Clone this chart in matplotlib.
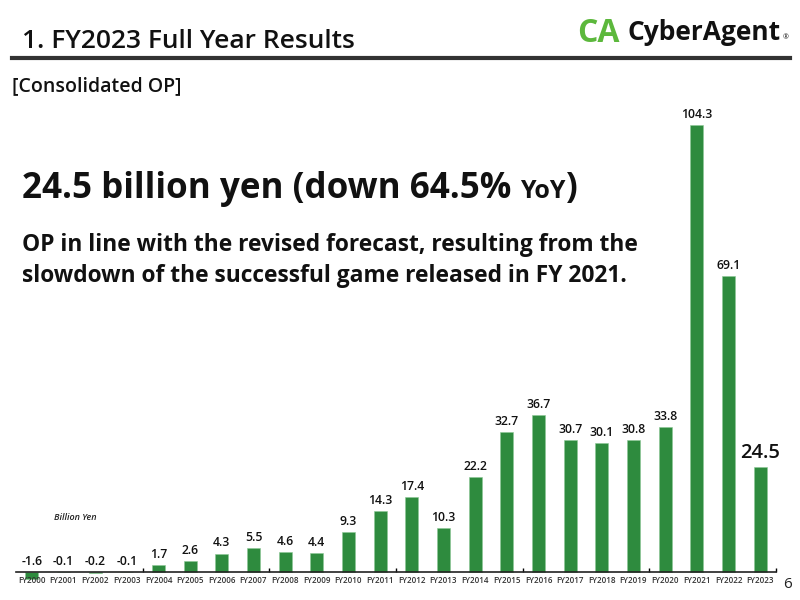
import numpy as np
import matplotlib.pyplot as plt

plt.rcParams['font.family'] = ['Open Sans', 'DejaVu Sans']

years = ['FY%d' % y for y in range(2000, 2024)]
op = [-1.6, -0.1, -0.2, -0.1, 1.7, 2.6, 4.3, 5.5, 4.6, 4.4, 9.3, 14.3,
      17.4, 10.3, 22.2, 32.7, 36.7, 30.7, 30.1, 30.8, 33.8, 104.3, 69.1, 24.5]

green = '#2e8b3e'

fig = plt.figure(figsize=(8, 6), dpi=100)
ax = fig.add_axes([0.02, 0.0252, 0.95, 0.8073])

x = np.arange(len(years))
ax.bar(x, op, width=0.42, color=green, edgecolor='#8cc996', linewidth=0.4)
ax.set_xlim(-0.5, len(years) - 0.5)
ax.set_ylim(-3, 110)

for s in ['top', 'right', 'left']:
    ax.spines[s].set_visible(False)
ax.spines['bottom'].set_position(('data', 0))
ax.spines['bottom'].set_linewidth(1.2)
ax.spines['bottom'].set_color('#222222')
ax.set_yticks([])
ax.set_xticks(x)
ax.set_xticklabels(years, fontsize=5.8, fontweight='semibold', color='#333333')
ax.tick_params(axis='x', which='major', length=0, pad=3)
ax.set_xticks(np.arange(3.5, len(years), 4), minor=True)
ax.tick_params(axis='x', which='minor', length=3, direction='in', width=1)

for i, v in enumerate(op):
    if i == len(op) - 1:
        ax.annotate('%.1f' % v, (i, v), xytext=(0, 3), textcoords='offset points',
                    ha='center', va='bottom', fontsize=14.5, fontweight='semibold', color='#111111')
    else:
        ax.annotate('%.1f' % v, (i, max(v, 0)), xytext=(0, 3), textcoords='offset points',
                    ha='center', va='bottom', fontsize=8.8, fontweight='semibold', color='#111111')

ax.text(0.7, 12.8, 'Billion Yen', fontsize=6.5, fontstyle='italic', fontweight='semibold',
        color='#222222', va='center')

# header
fig.text(0.0275, 0.93, '1. FY2023 Full Year Results', fontsize=19, fontweight='semibold',
         color='#111111', va='center')
fig.add_artist(plt.Line2D([0.015, 0.988], [0.903, 0.903], color='#333333', lw=3))
fig.text(0.015, 0.857, '[Consolidated OP]', fontsize=14, fontweight='semibold',
         color='#111111', va='center')

# logo
fig.text(0.722, 0.945, 'CA', fontsize=23, fontweight='bold', color='#5cb83c', va='center')
fig.text(0.784, 0.945, 'CyberAgent', fontsize=19, fontweight='bold', color='#111111',
         va='center')
fig.text(0.978, 0.937, '®', fontsize=5, color='#111111', va='center')

# headline
t1 = fig.text(0.0275, 0.67, '24.5 billion yen (down 64.5% ', fontsize=25.2,
              fontweight='bold', color='#111111', va='baseline')
fig.canvas.draw()
r = fig.canvas.get_renderer()
bb = t1.get_window_extent(r)
t2 = fig.text(bb.x1 / fig.bbox.width, 0.67, 'YoY', fontsize=18, fontweight='bold',
              color='#111111', va='baseline')
bb2 = t2.get_window_extent(r)
fig.text(bb2.x1 / fig.bbox.width, 0.67, ')', fontsize=25.2, fontweight='bold',
         color='#111111', va='baseline')

fig.text(0.0275, 0.592, 'OP in line with the revised forecast, resulting from the',
         fontsize=16.4, fontweight='bold', color='#111111', va='center')
fig.text(0.0275, 0.54, 'slowdown of the successful game released in FY 2021.',
         fontsize=16.4, fontweight='bold', color='#111111', va='center')

fig.text(0.984, 0.025, '6', fontsize=11, color='#222222', va='center', ha='center')

fig.savefig('out.png', dpi=100)
